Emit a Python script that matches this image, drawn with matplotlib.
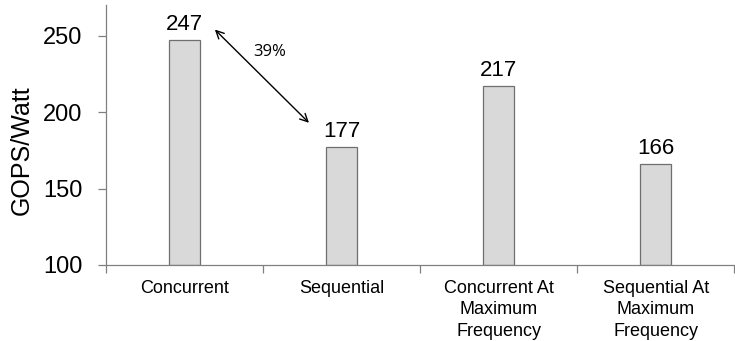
import matplotlib
matplotlib.use("Agg")
import matplotlib.pyplot as plt
import numpy as np

categories = ["Concurrent", "Sequential", "Concurrent At\nMaximum\nFrequency", "Sequential At\nMaximum\nFrequency"]
values = [247, 177, 217, 166]
y_ticks = [100, 150, 200, 250]

plt.rcParams['font.family'] = ['Liberation Sans', 'DejaVu Sans']

fig = plt.figure(figsize=(7.35, 3.41), dpi=100)
ax = fig.add_axes([0.144, 0.223, 0.855, 0.762])

x = np.arange(len(categories))
ax.bar(x, [v - 100 for v in values], bottom=100, width=0.2, color='#d9d9d9',
       edgecolor='#6f6f6f', linewidth=0.9, zorder=2)

for xi, v in zip(x, values):
    ax.text(xi, v + 3.5, str(v), ha='center', va='bottom', fontsize=16, color='#000000')

ax.set_xlim(-0.5, 3.5)
ax.set_ylim(100, 270)
ax.set_yticks(y_ticks)
ax.set_yticklabels([str(t) for t in y_ticks], fontsize=17)
ax.set_ylabel("GOPS/Watt", fontsize=18)
ax.yaxis.set_label_coords(-0.115, 0.44)

ax.set_xticks(x)
ax.set_xticklabels(categories, fontsize=13, linespacing=1.32)
ax.tick_params(axis='x', length=0, pad=11)
ax.set_xticks(np.arange(-0.5, 3.6, 1.0), minor=True)
ax.tick_params(axis='x', which='minor', length=6, color='#808080', width=0.9)
ax.tick_params(axis='y', length=6, color='#808080', width=0.9, pad=11)

for s in ['top', 'right']:
    ax.spines[s].set_visible(False)
for s in ['left', 'bottom']:
    ax.spines[s].set_color('#808080')
    ax.spines[s].set_linewidth(0.9)

ax.annotate("", xy=(0.194, 254), xytext=(0.793, 193),
            arrowprops=dict(arrowstyle='<->', color='#000000', lw=1.0,
                            mutation_scale=14, shrinkA=0, shrinkB=0))
ax.text(0.545, 239.5, "39%", ha='center', va='center', fontsize=12,
        family=['Open Sans', 'DejaVu Sans'])

fig.savefig("out.png", dpi=100)
